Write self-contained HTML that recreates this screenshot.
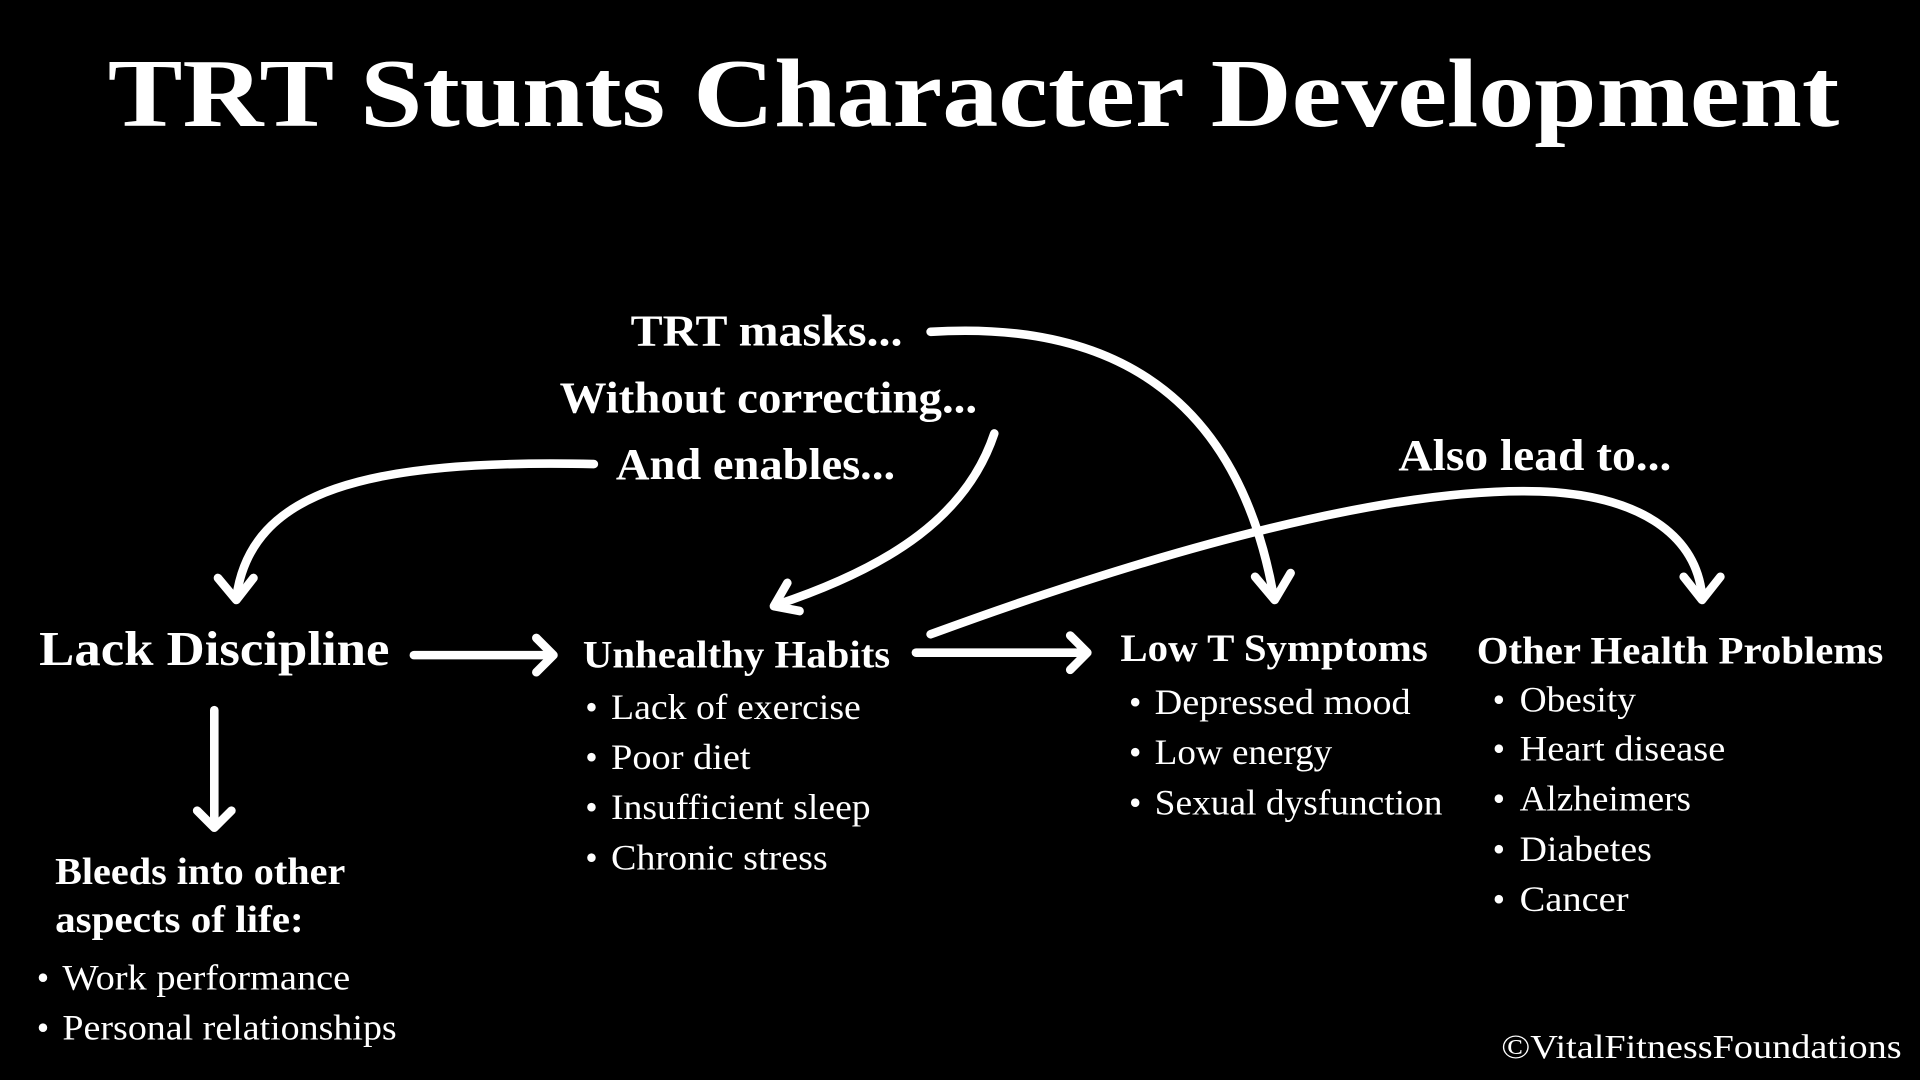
<!DOCTYPE html>
<html><head><meta charset="utf-8"><style>
html,body{margin:0;padding:0;background:#000;width:1920px;height:1080px;overflow:hidden}
svg{display:block}
text{fill:#fff;font-family:"Liberation Serif",serif}
.b{font-weight:bold}
</style></head><body>
<svg width="1920" height="1080" viewBox="0 0 1568 882" xmlns="http://www.w3.org/2000/svg">
<rect width="1568" height="882" fill="#000"/>
<text x="88" y="103" class="b" font-size="80" textLength="1414" lengthAdjust="spacingAndGlyphs">TRT Stunts Character Development</text>

<text x="515" y="282" class="b" font-size="36" textLength="222" lengthAdjust="spacingAndGlyphs">TRT masks...</text>
<text x="457" y="337" class="b" font-size="36" textLength="341" lengthAdjust="spacingAndGlyphs">Without correcting...</text>
<text x="503" y="391" class="b" font-size="36" textLength="228" lengthAdjust="spacingAndGlyphs">And enables...</text>
<text x="1142" y="384" class="b" font-size="36" textLength="223" lengthAdjust="spacingAndGlyphs">Also lead to...</text>

<text x="32" y="543" class="b" font-size="40" textLength="286" lengthAdjust="spacingAndGlyphs">Lack Discipline</text>
<text x="476" y="545" class="b" font-size="32" textLength="251" lengthAdjust="spacingAndGlyphs">Unhealthy Habits</text>
<text x="915" y="540" class="b" font-size="32" textLength="251" lengthAdjust="spacingAndGlyphs">Low T Symptoms</text>
<text x="1206" y="542" class="b" font-size="32" textLength="332" lengthAdjust="spacingAndGlyphs">Other Health Problems</text>

<g font-size="29" lengthAdjust="spacingAndGlyphs">
<text x="478" y="587">•</text><text x="499" y="587" textLength="204" lengthAdjust="spacingAndGlyphs">Lack of exercise</text>
<text x="478" y="628">•</text><text x="499" y="628" textLength="114" lengthAdjust="spacingAndGlyphs">Poor diet</text>
<text x="478" y="669">•</text><text x="499" y="669" textLength="212" lengthAdjust="spacingAndGlyphs">Insufficient sleep</text>
<text x="478" y="710">•</text><text x="499" y="710" textLength="177" lengthAdjust="spacingAndGlyphs">Chronic stress</text>

<text x="922" y="583">•</text><text x="943" y="583" textLength="209" lengthAdjust="spacingAndGlyphs">Depressed mood</text>
<text x="922" y="624">•</text><text x="943" y="624" textLength="145" lengthAdjust="spacingAndGlyphs">Low energy</text>
<text x="922" y="665">•</text><text x="943" y="665" textLength="235" lengthAdjust="spacingAndGlyphs">Sexual dysfunction</text>

<text x="1219" y="581">•</text><text x="1241" y="581" textLength="95" lengthAdjust="spacingAndGlyphs">Obesity</text>
<text x="1219" y="621">•</text><text x="1241" y="621" textLength="168" lengthAdjust="spacingAndGlyphs">Heart disease</text>
<text x="1219" y="662">•</text><text x="1241" y="662" textLength="140" lengthAdjust="spacingAndGlyphs">Alzheimers</text>
<text x="1219" y="703">•</text><text x="1241" y="703" textLength="108" lengthAdjust="spacingAndGlyphs">Diabetes</text>
<text x="1219" y="744">•</text><text x="1241" y="744" textLength="89" lengthAdjust="spacingAndGlyphs">Cancer</text>

<text x="30" y="808">•</text><text x="51" y="808" textLength="235" lengthAdjust="spacingAndGlyphs">Work performance</text>
<text x="30" y="849">•</text><text x="51" y="849" textLength="273" lengthAdjust="spacingAndGlyphs">Personal relationships</text>
<text x="1226" y="864" font-size="28" textLength="327" lengthAdjust="spacingAndGlyphs">©VitalFitnessFoundations</text>
</g>
<text x="45" y="722" class="b" font-size="31" textLength="237" lengthAdjust="spacingAndGlyphs">Bleeds into other</text>
<text x="45" y="761" class="b" font-size="31" textLength="203" lengthAdjust="spacingAndGlyphs">aspects of life:</text>

<g stroke="#fff" stroke-width="7" fill="none" stroke-linecap="round" stroke-linejoin="round">
<path d="M338,535 H450"/><path d="M438,521 L452,535 L438,549"/>
<path d="M748,533 H886"/><path d="M874,519 L888,533 L874,547"/>
<path d="M175,580 V674"/><path d="M161,662 L175,676 L189,662"/>
<path d="M485,379 C300,375 205,400 193,488"/><path d="M178,472 L193,490 L207,472"/>
<path d="M812,354 C790,420 730,462 634,494"/><path d="M643,476 L632,495 L653,499"/>
<path d="M760,271 C905,262 1010,320 1040,486"/><path d="M1025,471 L1041,490 L1054,468"/>
<path d="M760,518 C1000,430 1170,395 1270,402 C1345,408 1385,440 1390,486"/><path d="M1375,471 L1390,490 L1405,471"/>
</g>
</svg>
</body></html>
